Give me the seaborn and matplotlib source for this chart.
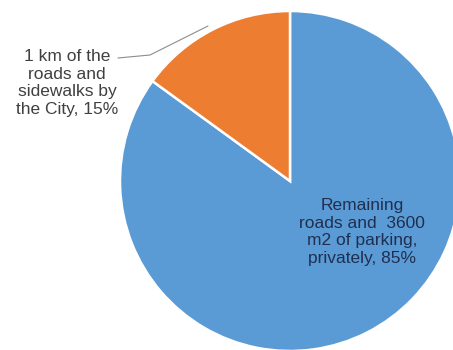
import matplotlib
matplotlib.use("Agg")
import matplotlib.pyplot as plt
import seaborn as sns

sns.set_theme(style="white")
plt.rcParams['font.family'] = ['Liberation Sans', 'DejaVu Sans']

categories = ["Remaining\nroads and  3600\nm2 of parking,\nprivately", "1 km of the\nroads and\nsidewalks by\nthe City"]
values = [85, 15]
colors = ["#5B9BD5", "#ED7D31"]

fig = plt.figure(figsize=(4.53, 3.5), dpi=100)
ax = fig.add_axes([0, 0, 1, 1])
ax.set_xlim(0, 453)
ax.set_ylim(0, 350)
ax.set_aspect('equal')
ax.axis('off')

wedges, _ = ax.pie(values, colors=colors, startangle=90, counterclock=False,
                   center=(290, 169), radius=170,
                   wedgeprops=dict(edgecolor='white', linewidth=1.8))
ax.set_xlim(0, 453)
ax.set_ylim(0, 350)

labels = [f"{c}, {v}%" for c, v in zip(categories, values)]
ax.text(362, 118, labels[0], ha='center', va='center', fontsize=12.5,
        color='#1F2F50', linespacing=1.2)
ax.text(67, 267, labels[1], ha='center', va='center', fontsize=12.5,
        color='#404040', linespacing=1.2)
ax.plot([118, 150, 208], [292, 295, 324], color='#8C8C8C', linewidth=0.8)

fig.savefig("out.png", dpi=100)
